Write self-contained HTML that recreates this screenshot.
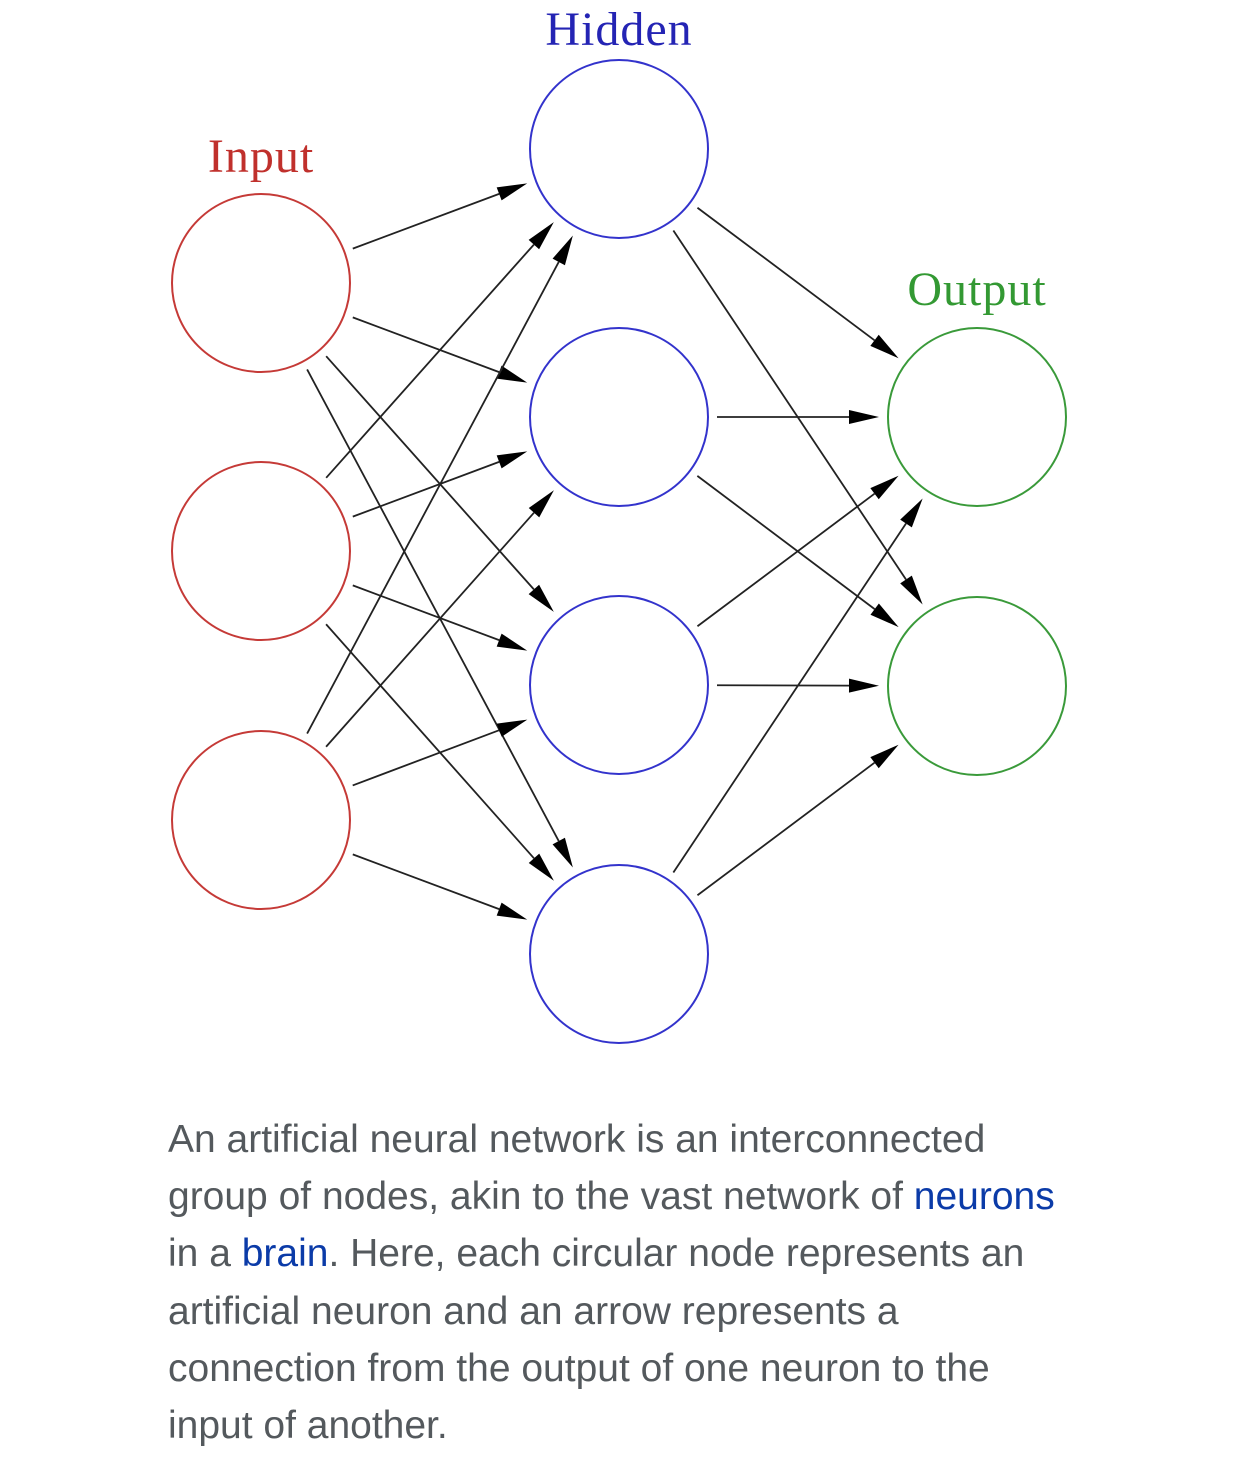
<!DOCTYPE html>
<html><head><meta charset="utf-8"><style>
html,body{margin:0;padding:0;background:#fff;width:1242px;height:1458px;overflow:hidden}
svg{position:absolute;left:0;top:0}
.cap{position:absolute;left:168px;top:1111px;width:1074px;white-space:nowrap;font-family:"Liberation Sans",sans-serif;font-size:39px;line-height:57.2px;color:#54595d}
.cap a{color:#0b3ba8;text-decoration:none}
</style></head><body>
<svg id="s" width="1242" height="1100" xmlns="http://www.w3.org/2000/svg">
<text x="261" y="172" text-anchor="middle" font-family="Liberation Serif,serif" font-size="48" letter-spacing="1" fill="#c0302c">Input</text>
<text x="619" y="45" text-anchor="middle" font-family="Liberation Serif,serif" font-size="48" letter-spacing="1" fill="#2424b4">Hidden</text>
<text x="977" y="305" text-anchor="middle" font-family="Liberation Serif,serif" font-size="48" letter-spacing="1" fill="#339933">Output</text>
<g id="g"></g>
</svg>
<div class="cap">An artificial neural network is an interconnected<br>group of nodes, akin to the vast network of <a>neurons</a><br>in a <a>brain</a>. Here, each circular node represents an<br>artificial neuron and an arrow represents a<br>connection from the output of one neuron to the<br>input of another.</div>
<script>
var I=[[261,283],[261,551],[261,820]],H=[[619,149],[619,417],[619,685],[619,954]],O=[[977,417],[977,686]];
var s='';
function c(p,col){s+='<circle cx="'+p[0]+'" cy="'+p[1]+'" r="89" fill="none" stroke="'+col+'" stroke-width="2"/>';}
function a(p,q){var dx=q[0]-p[0],dy=q[1]-p[1],L=Math.hypot(dx,dy),ux=dx/L,uy=dy/L;
var sx=p[0]+ux*98,sy=p[1]+uy*98,ex=q[0]-ux*98,ey=q[1]-uy*98,bx=ex-ux*30,by=ey-uy*30,nx=-uy*7,ny=ux*7;
s+='<line x1="'+sx+'" y1="'+sy+'" x2="'+bx+'" y2="'+by+'" stroke="#222" stroke-width="1.8"/>';
s+='<polygon points="'+ex+','+ey+' '+(bx+nx)+','+(by+ny)+' '+(bx-nx)+','+(by-ny)+'" fill="#000"/>';}
I.forEach(function(p){H.forEach(function(q){a(p,q)})});
H.forEach(function(p){O.forEach(function(q){a(p,q)})});
I.forEach(function(p){c(p,'#c53a37')});H.forEach(function(p){c(p,'#3333cc')});O.forEach(function(p){c(p,'#3a9a3a')});
document.getElementById('g').innerHTML=s;
</script>
</body></html>
